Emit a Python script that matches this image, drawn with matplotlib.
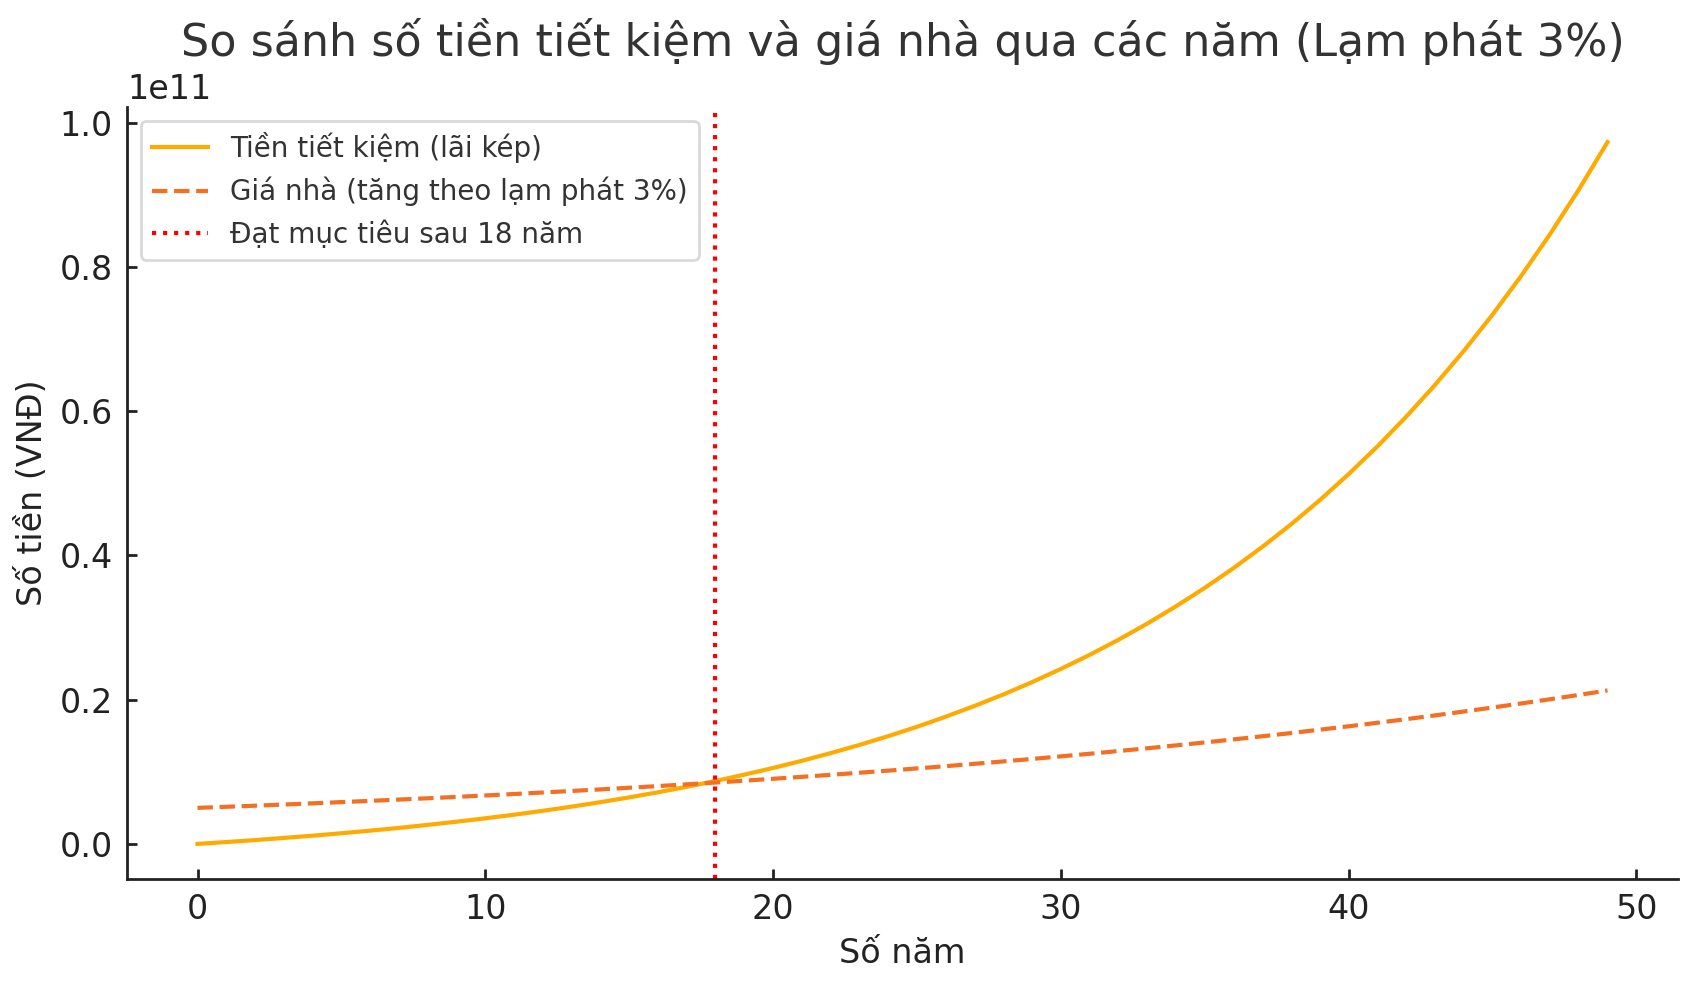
import matplotlib
matplotlib.use("Agg")
import matplotlib.pyplot as plt

# years 0..49
years = list(range(50))

# savings with compound interest, billions VND
savings_bn = [0.0, 0.26, 0.53, 0.83, 1.14, 1.48, 1.84, 2.22, 2.64, 3.08,
              3.55, 4.05, 4.59, 5.17, 5.79, 6.45, 7.16, 7.92, 8.73, 9.60,
              10.53, 11.52, 12.59, 13.72, 14.94, 16.24, 17.64, 19.13, 20.72, 22.43,
              24.26, 26.21, 28.30, 30.54, 32.94, 35.50, 38.24, 41.18, 44.31, 47.67,
              51.27, 55.11, 59.23, 63.63, 68.34, 73.38, 78.77, 84.55, 90.72, 97.33]

# house price growing with 3% inflation, billions VND
house_bn = [5.00, 5.15, 5.30, 5.46, 5.63, 5.80, 5.97, 6.15, 6.33, 6.52,
            6.72, 6.92, 7.13, 7.34, 7.56, 7.79, 8.02, 8.26, 8.51, 8.77,
            9.03, 9.30, 9.58, 9.87, 10.16, 10.47, 10.78, 11.11, 11.44, 11.78,
            12.14, 12.50, 12.88, 13.26, 13.66, 14.07, 14.49, 14.93, 15.37, 15.84,
            16.31, 16.80, 17.30, 17.82, 18.36, 18.91, 19.48, 20.06, 20.66, 21.28]

goal_year = 18

title = "So sánh số tiền tiết kiệm và giá nhà qua các năm (Lạm phát 3%)"
label_savings = "Tiền tiết kiệm (lãi kép)"
label_house = "Giá nhà (tăng theo lạm phát 3%)"
label_goal = f"Đạt mục tiêu sau {goal_year} năm"

savings = [v * 1e9 for v in savings_bn]
house = [v * 1e9 for v in house_bn]

dark = "#222222"
plt.rcParams["font.family"] = ["DejaVu Sans"]

fig = plt.figure(figsize=(1697 / 200, 985 / 200), dpi=200)
ax = fig.add_axes([127 / 1697, 1 - 879 / 985, (1678 - 127) / 1697, (879 - 107) / 985])

ax.plot(years, savings, color="#FFAA00", lw=1.5, label=label_savings)
ax.plot(years, house, color="#F46F22", lw=1.5, ls="--", label=label_house)
ax.axvline(goal_year, color="red", lw=1.5, ls=":", label=label_goal)

ax.set_title(title, fontsize=16, color="#333333")
ax.set_xlabel("Số năm", fontsize=12, color=dark)
ax.set_ylabel("Số tiền (VNĐ)", fontsize=12, color=dark)
ax.tick_params(labelsize=12, colors=dark, width=1.0, length=3.5,
               direction="in", pad=5)
ax.yaxis.get_offset_text().set_fontsize(12)
ax.yaxis.get_offset_text().set_color(dark)

for side in ["top", "right"]:
    ax.spines[side].set_visible(False)
for side in ["left", "bottom"]:
    ax.spines[side].set_linewidth(1.0)
    ax.spines[side].set_color(dark)

leg = ax.legend(loc="upper left", fontsize=10, frameon=True)
leg.get_frame().set_edgecolor("#d0d0d0")
for t in leg.get_texts():
    t.set_color("#333333")

fig.savefig("out.png", dpi=200)
